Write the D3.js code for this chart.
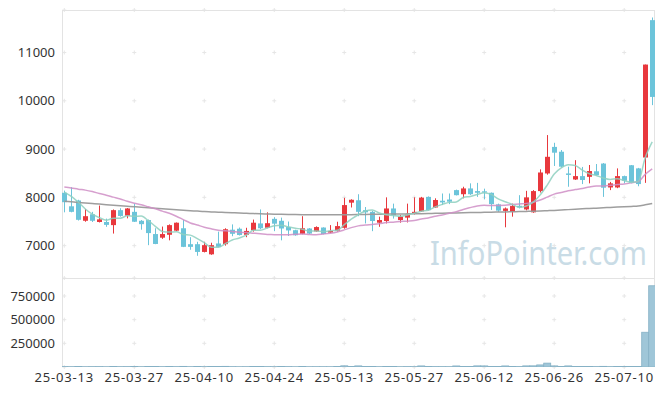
<!DOCTYPE html>
<html>
<head>
<meta charset="utf-8">
<script src="https://cdn.jsdelivr.net/npm/d3@7"></script>
<style>
body { margin: 0; background: #fff; }
svg { display: block; }
</style>
</head>
<body>
<div id="chart"></div>
<script>
//trading days shown on the chart
var dates = ["25-03-13","25-03-14","25-03-17","25-03-18","25-03-19","25-03-20","25-03-21","25-03-24","25-03-25","25-03-26","25-03-27","25-03-28","25-03-31",
    "25-04-01","25-04-02","25-04-03","25-04-04","25-04-07","25-04-08","25-04-09","25-04-10","25-04-11","25-04-14","25-04-15","25-04-16","25-04-17","25-04-18","25-04-21","25-04-22","25-04-23","25-04-24","25-04-25","25-04-28","25-04-29","25-04-30",
    "25-05-02","25-05-07","25-05-08","25-05-09","25-05-12","25-05-13","25-05-14","25-05-15","25-05-16","25-05-19","25-05-20","25-05-21","25-05-22","25-05-23","25-05-26","25-05-27","25-05-28","25-05-29","25-05-30",
    "25-06-02","25-06-04","25-06-05","25-06-09","25-06-10","25-06-11","25-06-12","25-06-13","25-06-16","25-06-17","25-06-18","25-06-19","25-06-20","25-06-23","25-06-24","25-06-25","25-06-26","25-06-27","25-06-30",
    "25-07-01","25-07-02","25-07-03","25-07-04","25-07-07","25-07-08","25-07-09","25-07-10","25-07-11","25-07-14","25-07-15","25-07-16"];

var opens = [8095,7815,7935,7515,7650,7490,7490,7425,7735,7620, 7700,7515,7530,7240,7165,7225,7310,7360,7030,7030,
    6870,6820,7045,7030,7330,7350,7225,7320,7460,7370, 7555,7515,7385,7320,7245,7355,7295,7375,7270,7310,
    7370,7890,7940,7735,7700,7475,7510,7770,7530,7580, 7655,7710,8010,7790,7930,7955,8150,8065,8185,8130,
    8125,8095,7855,7720,7700,7825,7750,7690,8130,8495, 9045,8945,8495,8370,8440,8425,8540,8700,8205,8205,
    8440,8665,8600,8825,11670];
var highs = [8140,8210,7950,7760,7700,7830,7560,7750,7775,7780, 7870,7530,7540,7360,7395,7440,7480,7530,7175,7080,
    7080,7060,7290,7360,7440,7375,7370,7540,7750,7690, 7590,7580,7500,7330,7610,7365,7400,7380,7425,7495,
    7990,7960,8065,7800,7720,7600,8000,7870,7635,7870, 8000,8010,8020,7980,8080,8080,8160,8220,8290,8300,
    8180,8100,7870,7790,7870,8045,8135,8150,8580,9290, 9130,8980,8635,8770,8630,8670,8690,8710,8320,8600,
    8450,8670,8610,10750,11725];
var lows = [7690,7690,7520,7495,7490,7480,7390,7250,7600,7565, 7490,7330,7010,7030,7140,7110,7300,6970,6915,6790,
    6860,6810,6965,7000,7195,7210,7175,7290,7340,7360, 7300,7110,7200,7205,7235,7240,7285,7235,7260,7290,
    7350,7790,7610,7460,7300,7390,7460,7560,7475,7480, 7645,7700,7730,7785,7840,7860,8040,7980,8050,8010,
    7960,7740,7700,7380,7600,7770,7730,7680,8100,8470, 8650,8620,8220,8360,8275,8290,8450,8010,8150,8190,
    8290,8290,8230,8300,9910];
var closes = [7900,7700,7535,7610,7515,7545,7430,7735,7615,7770, 7495,7445,7260,7035,7240,7425,7475,6975,6975,6870,
    7010,7010,6975,7340,7245,7220,7305,7475,7360,7465, 7455,7355,7315,7215,7360,7250,7385,7240,7305,7405,
    7840,7950,7700,7690,7510,7530,7770,7630,7600,7645, 7700,7995,7735,7945,7895,7910,8045,8185,8065,8095,
    8100,7860,7725,7770,7820,7790,8000,8130,8515,8840, 8925,8635,8465,8440,8360,8545,8460,8200,8290,8440,
    8345,8300,8275,10750,10080];
var volumes = [4200,3100,5200,2800,3600,4100,2500,5800,3300,3900, 4600,2900,6100,5400,3200,4800,3500,6600,3000,4400,
    3800,4900,5600,6800,3400,2600,3100,5200,4500,3600, 3300,4700,3900,2400,5100,2800,3200,3000,2700,4300,
    12500,5600,11800,4400,5200,3100,6300,4800,2900,4100, 3600,11400,5400,4100,3700,3300,11200,5800,4600,12100,
    11600,5300,4700,11300,5900,4200,11900,12400,22000,41000, 11700,6400,11500,4800,5300,4400,3900,6800,3600,4700,
    5100,4300,4600,367000,858000];

//moving average values before enough closes are on the chart
var ma5Head = [8110, 8020, 7900, 7760];
var ma20Head = [8215,8195,8170,8150,8120,8080,8045,8005,7965,7920, 7880,7845,7805,7765,7715,7670,7610,7540,7470];
//long moving average (gray line)
var maLong = [7920,7908,7896,7884,7872,7860,7849,7838,7827,7816, 7805,7795,7785,7775,7765,7755,7745,7735,7725,7715,
    7705,7699,7693,7687,7681,7675,7670,7665,7660,7655, 7650,7648,7646,7644,7642,7640,7640,7640,7640,7640,
    7640,7642,7644,7646,7648,7650,7652,7654,7656,7658, 7660,7663,7666,7669,7672,7675,7678,7681,7684,7687,
    7690,7693,7696,7699,7702,7705,7709,7713,7718,7724, 7730,7738,7746,7754,7762,7770,7777,7784,7791,7798,
    7805,7812,7819,7845,7874];

var priceTicks = [7000, 8000, 9000, 10000, 11000];
var volumeTicks = [250000, 500000, 750000];
var dateTicks = ["25-03-13","25-03-27","25-04-10","25-04-24","25-05-13","25-05-27","25-06-12","25-06-26","25-07-10"];

//svg dimensions and plot edges
var svgWidth = 665;
var svgHeight = 396;
var plot = {left: 62, right: 655, top: 10, mid: 278, bottom: 367};

var upColor = "#e8383d";
var downColor = "#6cc4da";

//moving average from closes, head values where history is missing
function movingAvg(n, head) {
    return closes.map(function(c, i) {
        if (i < head.length) return head[i];
        return d3.mean(closes.slice(i - n + 1, i + 1));
    });
}
var ma5 = movingAvg(5, ma5Head);
var ma20 = movingAvg(20, ma20Head);

var data = dates.map(function(d, i) {
    return {i: i, date: d, open: opens[i], high: highs[i], low: lows[i], close: closes[i], volume: volumes[i]};
});

var svg = d3.select("#chart")
    .append("svg")
    .attr("width", svgWidth)
    .attr("height", svgHeight);

//scales
var xScale = d3.scaleLinear().domain([-0.33, 84.4]).range([plot.left, plot.right]);
var yPrice = d3.scaleLinear().domain([6330, 11880]).range([plot.mid, plot.top]);
var yVolume = d3.scaleLinear().domain([0, 940000]).range([plot.bottom, plot.mid]);

svg.append("defs").append("clipPath").attr("id", "plotClip")
    .append("rect").attr("x", plot.left).attr("y", plot.top)
    .attr("width", plot.right - plot.left).attr("height", plot.bottom - plot.top);

//watermark
svg.append("text")
    .attr("x", 430)
    .attr("y", 265)
    .attr("textLength", 217)
    .attr("lengthAdjust", "spacingAndGlyphs")
    .style("font-family", "Noto Sans, sans-serif")
    .style("font-size", "32px")
    .attr("fill", "#c9dce6")
    .text("InfoPointer.com");

//grid crosses
var tickIdx = dateTicks.map(function(d) { return dates.indexOf(d); });
var gridYs = priceTicks.map(yPrice).concat(volumeTicks.map(yVolume)).concat([plot.top, plot.mid, plot.bottom]);
var crosses = [];
tickIdx.forEach(function(i) {
    gridYs.forEach(function(y) { crosses.push([xScale(i), y]); });
});
svg.append("g")
    .selectAll("path")
    .data(crosses)
    .enter()
    .append("path")
    .attr("d", d => `M${d[0] - 2},${d[1]}h4M${d[0]},${d[1] - 2}v4`)
    .attr("stroke", "#e6e6e6")
    .attr("stroke-width", 1);

//plot borders
var border = svg.append("g").attr("stroke", "#e3e3e3").attr("stroke-width", 1).attr("fill", "none");
border.append("rect").attr("x", plot.left + 0.5).attr("y", plot.top + 0.5)
    .attr("width", plot.right - plot.left - 1).attr("height", plot.bottom - plot.top - 1);
border.append("line").attr("x1", plot.left).attr("x2", plot.right).attr("y1", plot.mid + 0.5).attr("y2", plot.mid + 0.5);

var chartGroup = svg.append("g").attr("clip-path", "url(#plotClip)");

//volume bars
chartGroup.append("g")
    .selectAll("rect")
    .data(data)
    .enter()
    .append("rect")
    .attr("x", d => xScale(d.i) - 3.5)
    .attr("y", d => yVolume(d.volume))
    .attr("width", 7)
    .attr("height", d => yVolume(0) - yVolume(d.volume))
    .attr("fill", "#9fc6d8")
    .attr("stroke", "#86b1c5")
    .attr("stroke-width", 0.8);

//candles
var candle = chartGroup.append("g")
    .selectAll("g")
    .data(data)
    .enter()
    .append("g")
    .attr("fill", d => d.close > d.open ? upColor : downColor)
    .attr("stroke", d => d.close > d.open ? upColor : downColor);

candle.append("line")
    .attr("x1", d => Math.round(xScale(d.i)) + 0.5)
    .attr("x2", d => Math.round(xScale(d.i)) + 0.5)
    .attr("y1", d => yPrice(d.high))
    .attr("y2", d => yPrice(d.low))
    .attr("stroke-width", 1);

candle.append("rect")
    .attr("x", d => Math.round(xScale(d.i)) - 2)
    .attr("y", d => yPrice(Math.max(d.open, d.close)))
    .attr("width", 5)
    .attr("height", d => Math.max(1, Math.abs(yPrice(d.open) - yPrice(d.close))))
    .attr("stroke", "none");

//moving average lines
function drawLine(values, color, opacity) {
    var line = d3.line()
        .x((d, i) => xScale(i))
        .y(d => yPrice(d))
        .curve(d3.curveMonotoneX);
    chartGroup.append("path")
        .datum(values)
        .attr("d", line)
        .attr("fill", "none")
        .attr("stroke", color)
        .attr("stroke-width", 1.5)
        .attr("opacity", opacity);
}
drawLine(maLong, "#999999", 0.95);
drawLine(ma20, "#cf8ec6", 0.85);
drawLine(ma5, "#8ed0c0", 0.85);

//axis labels
var labels = svg.append("g")
    .style("font-family", "Noto Sans, sans-serif")
    .style("font-size", "13px")
    .attr("fill", "#333");

labels.selectAll(".price")
    .data(priceTicks)
    .enter()
    .append("text")
    .attr("x", 55)
    .attr("y", d => yPrice(d))
    .attr("dy", "0.35em")
    .attr("text-anchor", "end")
    .text(d => d);

labels.selectAll(".vol")
    .data(volumeTicks)
    .enter()
    .append("text")
    .attr("x", 55)
    .attr("y", d => yVolume(d))
    .attr("dy", "0.35em")
    .attr("text-anchor", "end")
    .text(d => d);

labels.selectAll(".date")
    .data(dateTicks)
    .enter()
    .append("text")
    .attr("x", d => xScale(dates.indexOf(d)))
    .attr("y", 382)
    .attr("text-anchor", "middle")
    .style("letter-spacing", "0.8px")
    .text(d => d);
</script>
</body>
</html>
